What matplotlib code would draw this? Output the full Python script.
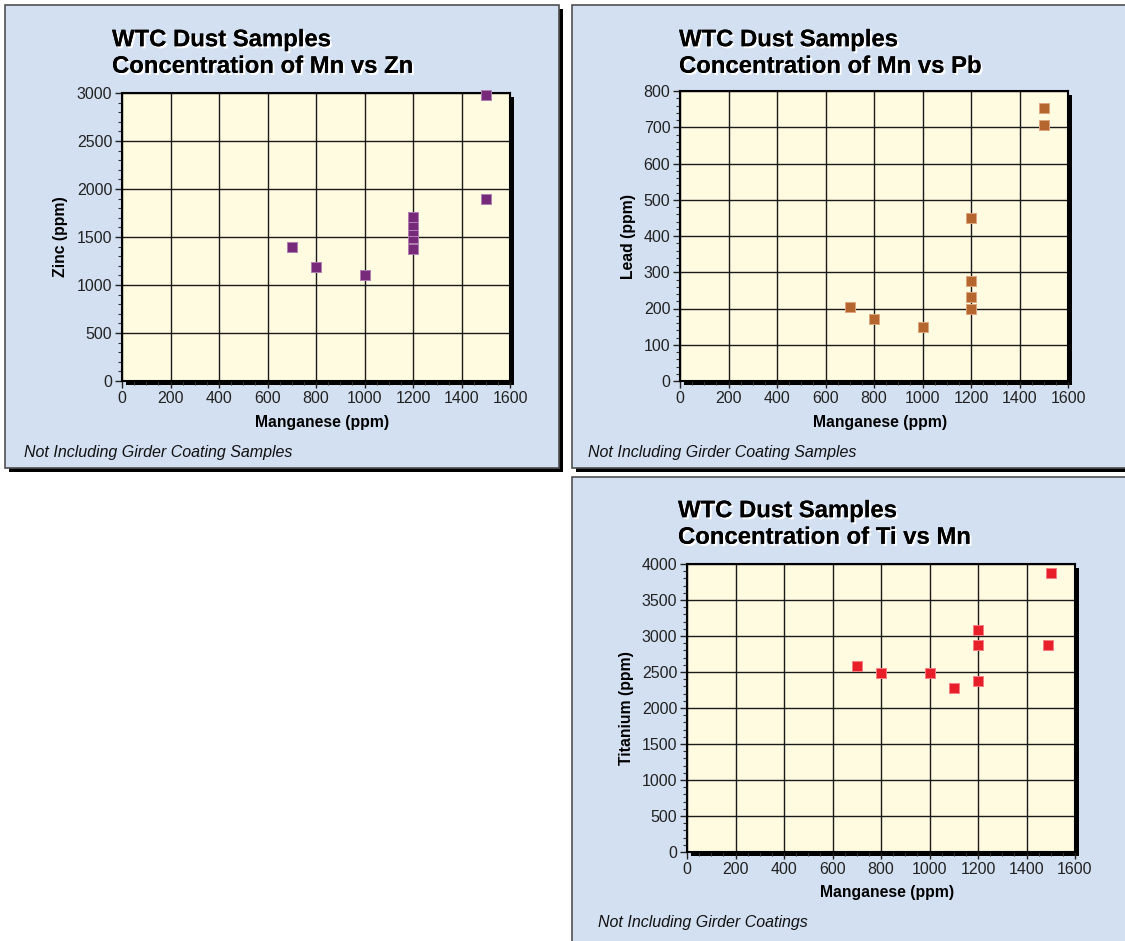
import matplotlib
matplotlib.use('Agg')
import matplotlib.pyplot as plt
from matplotlib.patches import Rectangle
from matplotlib.ticker import MultipleLocator
import matplotlib.patheffects as pe

plt.rcParams['font.family'] = ['Liberation Sans', 'DejaVu Sans']

W, H = 1125, 941

# data
zn_mn = [700, 800, 1000, 1200, 1200, 1200, 1200, 1200, 1500, 1500]
zn_val = [1400, 1190, 1100, 1370, 1490, 1560, 1630, 1710, 2980, 1900]

pb_mn = [700, 800, 1000, 1200, 1200, 1200, 1200, 1500, 1500]
pb_val = [205, 172, 148, 450, 275, 232, 200, 752, 707]

ti_mn = [700, 800, 1000, 1100, 1200, 1200, 1200, 1490, 1500]
ti_val = [2580, 2480, 2480, 2280, 3080, 2880, 2380, 2880, 3880]

panel_bg = '#D3E0F1'
plot_bg = '#FFFBE1'


def fig_rect(l, t, r, b):
    return [l / W, 1 - b / H, (r - l) / W, (b - t) / H]


def panel(fig, l, t, r, b):
    fig.patches.append(Rectangle((l / W + 4 / W, 1 - (b + 4) / H), (r - l) / W, (b - t) / H,
                                 transform=fig.transFigure, facecolor='black',
                                 edgecolor='none', zorder=-3))
    fig.patches.append(Rectangle((l / W, 1 - b / H), (r - l) / W, (b - t) / H,
                                 transform=fig.transFigure, facecolor=panel_bg,
                                 edgecolor='#505050', lw=1.2, zorder=-2))


def scatter_panel(fig, box, xs, ys, ymax, ystep, yminor, color, edge,
                  title, ylabel, ylab_x, title_x, title_y, note, note_xy, xlab_y):
    l, t, r, b = box
    # drop shadow of plot frame
    fig.patches.append(Rectangle(((l + 4) / W, 1 - (b + 4) / H), (r - l) / W, (b - t) / H,
                                 transform=fig.transFigure, facecolor='black',
                                 edgecolor='none', zorder=-1))
    ax = fig.add_axes(fig_rect(l, t, r, b))
    ax.set_facecolor(plot_bg)
    ax.set_xlim(0, 1600)
    ax.set_ylim(0, ymax)
    ax.xaxis.set_major_locator(MultipleLocator(200))
    ax.xaxis.set_minor_locator(MultipleLocator(50))
    ax.yaxis.set_major_locator(MultipleLocator(ystep))
    ax.yaxis.set_minor_locator(MultipleLocator(yminor))
    ax.grid(True, which='major', color='#1a1a1a', lw=1.0)
    ax.set_axisbelow(True)
    for s in ax.spines.values():
        s.set_color('black')
        s.set_linewidth(1.5)
    ax.tick_params(which='major', direction='out', length=5, width=1, labelsize=11.5,
                   colors='#222222', pad=2)
    ax.tick_params(which='minor', direction='out', length=3, width=0.8, colors='#333333')
    ax.scatter(xs, ys, marker='s', s=58, c=color, edgecolors=edge, linewidths=0.7,
               zorder=3, clip_on=False)

    fig.text(title_x / W, 1 - title_y / H, 'WTC Dust Samples\n' + title,
             fontsize=17.2, fontweight='bold', va='center', ha='left', linespacing=1.2,
             path_effects=[pe.withSimplePatchShadow(offset=(1.5, -1.5), shadow_rgbFace='white', alpha=1),
                           pe.Normal()])
    fig.text(ylab_x / W, 1 - ((t + b) / 2) / H, ylabel, rotation=90, fontsize=11.3,
             fontweight='bold', ha='center', va='center')
    fig.text(((l + r) / 2 + 6) / W, 1 - xlab_y / H, 'Manganese (ppm)', fontsize=11.3,
             fontweight='bold', ha='center', va='center')
    fig.text(note_xy[0] / W, 1 - note_xy[1] / H, note, fontsize=11.5, style='italic',
             ha='left', va='center', color='#111111')
    return ax


fig = plt.figure(figsize=(W / 100, H / 100), dpi=100)
fig.patch.set_facecolor('white')

panel(fig, 5, 5, 559, 468)
panel(fig, 572, 5, 1135, 468)
panel(fig, 572, 477, 1135, 950)

scatter_panel(fig, (122, 93, 510, 381), zn_mn, zn_val, 3000, 500, 100,
              '#77297A', '#B07FB0', 'Concentration of Mn vs Zn', 'Zinc (ppm)', 61,
              112, 53, 'Not Including Girder Coating Samples', (24, 452), 422)
scatter_panel(fig, (680, 91, 1068, 381), pb_mn, pb_val, 800, 100, 20,
              '#B5662E', '#DDA77E', 'Concentration of Mn vs Pb', 'Lead (ppm)', 628,
              679, 53, 'Not Including Girder Coating Samples', (588, 452), 422)
scatter_panel(fig, (687, 564, 1075, 852), ti_mn, ti_val, 4000, 500, 100,
              '#E81F28', '#F57F84', 'Concentration of Ti vs Mn', 'Titanium (ppm)', 626,
              678, 524, 'Not Including Girder Coatings', (598, 923), 893)

fig.savefig('out.png', dpi=100, facecolor='white')
